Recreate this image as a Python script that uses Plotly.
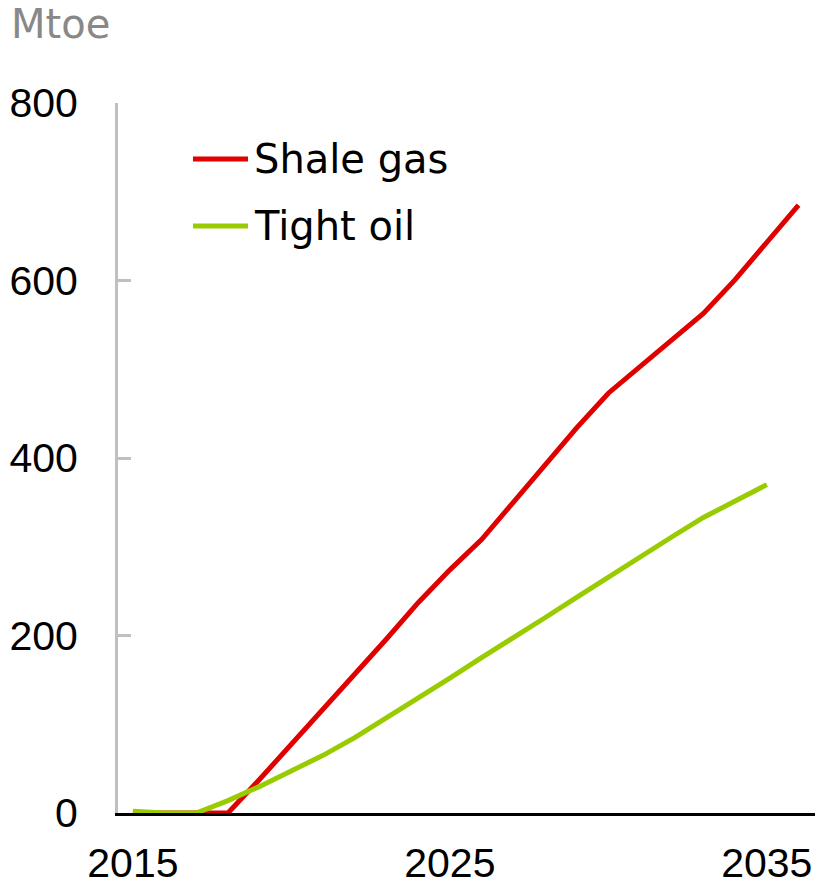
import plotly.graph_objects as go

# Years shown on the x axis
years_shale = list(range(2015, 2037))
years_tight = list(range(2015, 2036))

# Mtoe
shale_gas = [0, 0, 0, 0, 38, 77, 116, 156, 196, 237, 274, 308, 350, 392,
             434, 473, 503, 533, 563, 601, 642, 685]
tight_oil = [2, 0, 0, 14, 30, 47, 65, 85, 107, 130, 152, 175, 197, 220,
             243, 266, 288, 311, 333, 352, 370]

x_ticks = [2015, 2025, 2035]
y_ticks = [0, 200, 400, 600, 800]

red = '#E00000'
green = '#99CC00'
tick_font = 'Liberation Sans, Arial, sans-serif'
text_font = 'DejaVu Sans, sans-serif'

fig = go.Figure()
fig.add_trace(go.Scatter(x=years_shale, y=shale_gas, mode='lines', name='Shale gas',
                         line=dict(color=red, width=5)))
fig.add_trace(go.Scatter(x=years_tight, y=tight_oil, mode='lines', name='Tight oil',
                         line=dict(color=green, width=5)))

fig.update_layout(
    width=818, height=886,
    margin=dict(l=118, r=3, t=103, b=73),
    plot_bgcolor='white', paper_bgcolor='white',
    font=dict(family=tick_font, size=41, color='black'),
    showlegend=False,
)
fig.update_xaxes(range=[2014.53, 2036.52], tickvals=x_ticks, ticks='',
                 showgrid=False, zeroline=False, showline=True, automargin=False,
                 linecolor='black', linewidth=2.5, ticklabelstandoff=12)
fig.update_yaxes(range=[0, 800], tickvals=y_ticks, ticks='inside', ticklen=13,
                 tickwidth=3, tickcolor='#C0C0C0', showgrid=False, zeroline=False,
                 showline=True, linecolor='#C0C0C0', linewidth=3, automargin=False,
                 ticklabelstandoff=29)

# Legend drawn by hand (long line samples like the original)
legend_items = [('Shale gas', red, 0.921), ('Tight oil', green, 0.8268)]
for label, color, ypos in legend_items:
    fig.add_shape(type='line', xref='paper', yref='paper', x0=0.1076, x1=0.1865,
                  y0=ypos, y1=ypos, line=dict(color=color, width=5))
    fig.add_annotation(text=label, xref='paper', yref='paper', x=0.192, y=ypos,
                       xanchor='left', yanchor='middle', showarrow=False,
                       font=dict(family=text_font, size=40, color='black'))

# Unit label
fig.add_annotation(text='Mtoe', xref='paper', yref='paper', x=-0.157, y=1.111,
                   xanchor='left', yanchor='middle', showarrow=False,
                   font=dict(family=text_font, size=40, color='#888888'))

# drop the default body margin so the figure fills the window
fig.write_html('out.html', config={'displayModeBar': False},
               post_script="document.body.style.margin='0px';")
